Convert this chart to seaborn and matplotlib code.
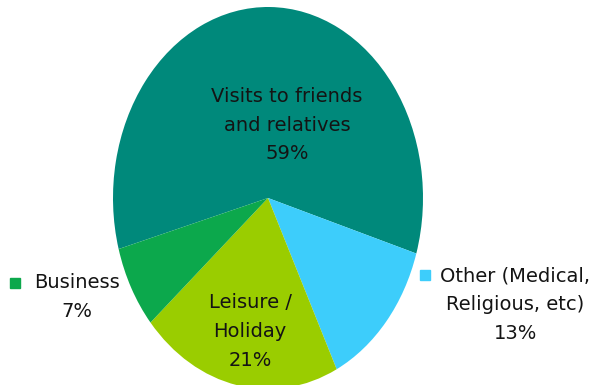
import matplotlib
matplotlib.use("Agg")
import matplotlib.pyplot as plt
import seaborn as sns

# Purpose of visit, share of trips
categories = ["Visits to friends\nand relatives", "Other (Medical,\nReligious, etc)",
              "Leisure /\nHoliday", "Business"]
shares = [59, 13, 21, 7]
slice_colors = ["#00897B", "#3DCDFB", "#9ACD00", "#0CA84C"]

sns.set_theme(style="white")
plt.rcParams["font.family"] = ["DejaVu Sans"]
palette = sns.color_palette(slice_colors)

fig = plt.figure(figsize=(5.92, 3.85), dpi=100)
# axes spans the ellipse of the pie: center (268, 198) px, radii 155 x 191 px
W, H = 592, 385
cx, cy, rx, ry = 268, 198, 155, 191
ax = fig.add_axes([(cx - rx) / W, (H - cy - ry) / H, 2 * rx / W, 2 * ry / H])

wedges, _ = ax.pie(shares, colors=palette, startangle=195.5, counterclock=False,
                   radius=1, wedgeprops=dict(linewidth=0))
ax.set_aspect("auto")
ax.set_xlim(-1, 1)
ax.set_ylim(-1, 1)
ax.axis("off")

txt_color = "#141414"
fs = 14
ls = 1.65


def label(i):
    return f"{categories[i]}\n{shares[i]}%"


# labels inside the slices
ax.text(0.123, 0.382, label(0), ha="center", va="center", fontsize=fs,
        color=txt_color, linespacing=ls)
ax.text(-0.116, -0.70, label(2), ha="center", va="center", fontsize=fs,
        color=txt_color, linespacing=ls)

# labels outside the slices with a colour key
ax.text(-1.232, -0.518, label(3), ha="center", va="center", fontsize=fs,
        color=txt_color, linespacing=ls, clip_on=False)
ax.text(1.595, -0.56, label(1), ha="center", va="center", fontsize=fs,
        color=txt_color, linespacing=ls, clip_on=False)
ax.plot([-1.632], [-0.445], marker="s", markersize=7, color=palette[3],
        clip_on=False, linestyle="none")
ax.plot([1.013], [-0.403], marker="s", markersize=7, color=palette[1],
        clip_on=False, linestyle="none")

fig.savefig("out.png", dpi=100)
